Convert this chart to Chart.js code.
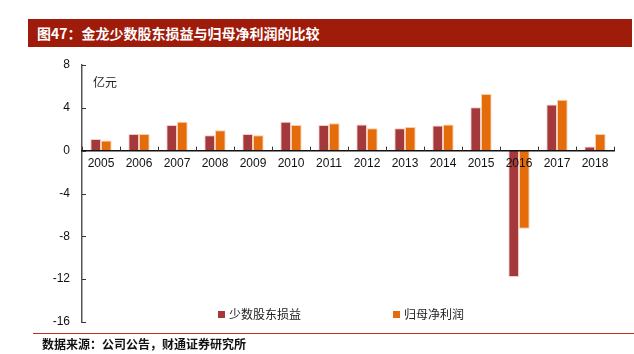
<!DOCTYPE html>
<html>
<head>
<meta charset="utf-8">
<script src="https://cdn.jsdelivr.net/npm/chart.js@4/dist/chart.umd.min.js"></script>
<style>
    body { margin: 0; background: #fff; font-family: "Noto Sans CJK SC", sans-serif; }
    #wrap { position: relative; width: 634px; height: 354px; overflow: hidden; }
    #title { position: absolute; left: 28px; top: 19px; width: 604px; height: 28px; background: #9f1c0b;
        color: #fff; font-weight: bold; font-size: 14px; line-height: 28px; padding-left: 9px; box-sizing: border-box; }
    #unit { position: absolute; left: 93px; top: 73px; font-size: 12px; color: #222; }
    .leg { position: absolute; top: 305px; font-size: 12px; color: #222; }
    .leg i { display: inline-block; width: 7px; height: 7px; margin-right: 4px; vertical-align: 1px; }
    #srcline { position: absolute; left: 33px; top: 333px; width: 601px; height: 1px; background: #c0301c; }
    #src { position: absolute; left: 42px; top: 335px; font-size: 12px; font-weight: bold; color: #111; }
    canvas { position: absolute; left: 0; top: 0; }
</style>
</head>
<body>
<div id="wrap">
    <canvas id="chart" width="634" height="354"></canvas>
    <div id="title">图47：金龙少数股东损益与归母净利润的比较</div>
    <div id="unit">亿元</div>
    <div class="leg" style="left:218px"><i style="background:#a3393a"></i>少数股东损益</div>
    <div class="leg" style="left:393px"><i style="background:#e46c0a"></i>归母净利润</div>
    <div id="srcline"></div>
    <div id="src">数据来源：公司公告，财通证券研究所</div>
</div>
<script>
    "use strict";

    const years = ["2005", "2006", "2007", "2008", "2009", "2010", "2011",
        "2012", "2013", "2014", "2015", "2016", "2017", "2018"];
    // 少数股东损益
    const minority = [1.1, 1.55, 2.4, 1.45, 1.55, 2.7, 2.4, 2.45, 2.1, 2.35, 4.05, -11.8, 4.3, 0.4];
    // 归母净利润
    const parentProfit = [0.95, 1.55, 2.7, 1.9, 1.45, 2.4, 2.55, 2.1, 2.2, 2.45, 5.3, -7.3, 4.75, 1.55];
    const yTicks = [8, 4, 0, -4, -8, -12, -16];

    // inward tick marks on both axes
    const innerTicks = {
        id: 'innerTicks',
        afterDraw(chart) {
            const ctx = chart.ctx;
            const x = chart.scales.x, y = chart.scales.y;
            const y0 = y.getPixelForValue(0);
            ctx.save();
            ctx.strokeStyle = '#333';
            ctx.lineWidth = 1;
            ctx.beginPath();
            for (let i = 0; i <= years.length; i++) {
                const px = Math.round(x.getPixelForValue(i - 0.5)) + 0.5;
                ctx.moveTo(px, y0);
                ctx.lineTo(px, y0 - 4);
            }
            yTicks.forEach(v => {
                const py = Math.round(y.getPixelForValue(v)) + 0.5;
                ctx.moveTo(x.left, py);
                ctx.lineTo(x.left + 4, py);
            });
            ctx.stroke();
            ctx.restore();
        }
    };

    new Chart(document.getElementById('chart'), {
        type: 'bar',
        data: {
            labels: years,
            datasets: [{
                label: '少数股东损益',
                data: minority,
                backgroundColor: '#a3393a',
                borderColor: 'rgba(240,200,195,0.9)',
                borderWidth: 1
            }, {
                label: '归母净利润',
                data: parentProfit,
                backgroundColor: '#e46c0a',
                borderColor: 'rgba(250,200,160,0.9)',
                borderWidth: 1
            }]
        },
        options: {
            responsive: false,
            animation: false,
            layout: { padding: { left: 0, right: 20, top: 65, bottom: 32 } },
            plugins: { legend: { display: false }, tooltip: { enabled: false } },
            datasets: { bar: { categoryPercentage: 0.56, barPercentage: 1 } },
            scales: {
                x: {
                    position: { y: 0 },
                    grid: { display: false, drawTicks: false },
                    border: { display: true, color: '#111', width: 1.5, z: 1 },
                    ticks: { z: 1, color: '#111', padding: 6, font: { family: 'Liberation Sans', size: 12 } }
                },
                y: {
                    min: -16,
                    max: 8,
                    afterFit: s => { s.width = 82; },
                    afterBuildTicks: s => { s.ticks = yTicks.map(v => ({ value: v })); },
                    grid: { display: false, drawTicks: false },
                    border: { display: true, color: '#555', width: 1.5 },
                    ticks: { color: '#111', padding: 12, font: { family: 'Liberation Sans', size: 12 } }
                }
            }
        },
        plugins: [innerTicks]
    });
</script>
</body>
</html>
